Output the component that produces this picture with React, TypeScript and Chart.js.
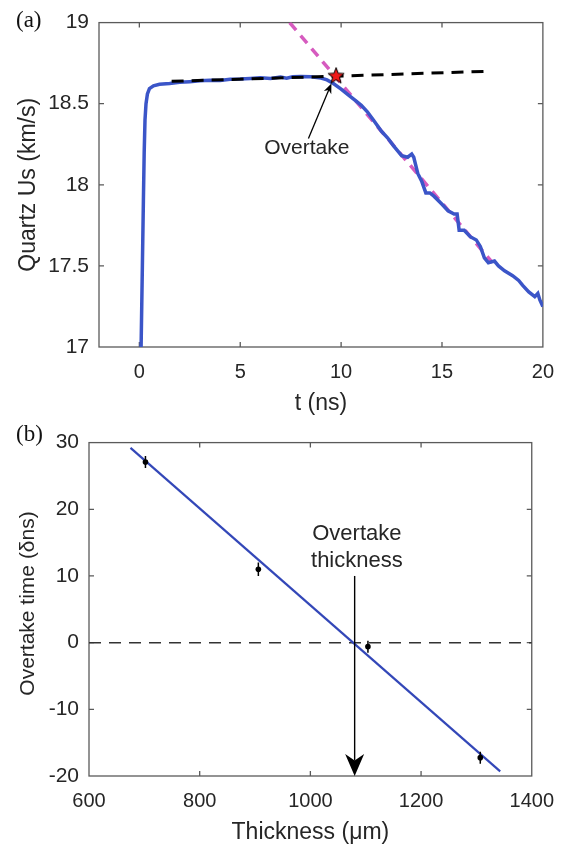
import React, { useEffect, useRef } from "react";
import { Chart, registerables } from "chart.js";

Chart.register(...registerables);

// ---------- Panel (a) data ----------
const T_TICKS = [0, 5, 10, 15, 20];
const US_TICKS = [17, 17.5, 18, 18.5, 19];

const US_T = [
  0.08, 0.15, 0.2, 0.24, 0.28, 0.33, 0.4, 0.5, 0.7, 1.0, 1.5, 2.0, 2.5, 3.0, 3.5, 4.0, 4.5, 5.0,
  5.5, 6.0, 6.5, 7.0, 7.3, 7.6, 8.0, 8.5, 9.0, 9.3, 9.6, 10.0, 10.4, 10.7, 11.0, 11.3, 11.6,
  12.0, 12.3, 12.6, 13.0, 13.3, 13.5, 13.6, 13.8, 14.0, 14.2, 14.4, 14.6, 15.0, 15.3, 15.6,
  15.75, 15.85, 16.1, 16.4, 16.7, 16.9, 17.1, 17.3, 17.6, 17.8, 18.1, 18.5, 18.8, 19.0, 19.3,
  19.6, 19.75, 19.85, 20.0,
];
const US_V = [
  16.95, 17.5, 17.9, 18.2, 18.4, 18.5, 18.56, 18.593, 18.61, 18.62, 18.625, 18.632, 18.636,
  18.641, 18.645, 18.643, 18.65, 18.652, 18.656, 18.66, 18.655, 18.664, 18.657, 18.666, 18.668,
  18.666, 18.658, 18.647, 18.626, 18.59, 18.55, 18.52, 18.49, 18.45, 18.4, 18.33, 18.29, 18.24,
  18.18, 18.17, 18.19, 18.17, 18.07, 18.02, 17.95, 17.95, 17.93, 17.88, 17.84, 17.82, 17.82,
  17.72, 17.72, 17.68, 17.66, 17.62, 17.55, 17.52, 17.53, 17.5, 17.47, 17.44, 17.41, 17.38,
  17.34, 17.31, 17.33, 17.29, 17.25,
];
const DECAY_FIT_T = [7.45, 17.5];
const DECAY_FIT_V = [19.0, 17.52];
const PLATEAU_FIT_T = [1.6, 17.4];
const PLATEAU_FIT_V = [18.638, 18.7];
const OVERTAKE_T = [9.75];
const OVERTAKE_V = [18.675];

// ---------- Panel (b) data ----------
const THICK_TICKS = [600, 800, 1000, 1200, 1400];
const TIME_TICKS = [-20, -10, 0, 10, 20, 30];
const THICKNESS = [702, 906, 1104, 1307];
const OVERTAKE_TIME = [27.1, 11.0, -0.6, -17.25];
const OVERTAKE_ERR = [0.9, 1.0, 0.9, 0.9];
const FIT_X = [675, 1343];
const FIT_Y = [29.2, -19.3];
const ZERO_X = [600, 1400];
const ZERO_Y = [0, 0];

// annotation anchors (data units)
const A_LABEL = "Overtake";
const A_LABEL_AT = { x: 8.3, y: 18.225 };
const A_ARROW = { x1: 8.38, y1: 18.285, x2: 9.52, y2: 18.625 };
const B_LABEL = ["Overtake", "thickness"];
const B_LABEL_AT = { x: 1084, y1: 16.26, y2: 12.21 };
const B_ARROW = { x: 1080, y1: 10, y2: -20 };

const FONT = "'Liberation Sans', Arial, Helvetica, sans-serif";
const TEXT = "#262626";
const AXIS = "#5a5a5a";
const BLUE = "#3b55c8";
const BLUE2 = "#3347b8";
const MAGENTA = "#d65bbf";

const pts = (xs: number[], ys: number[]) => xs.map((x, i) => ({ x, y: ys[i] }));

function makeStar(): HTMLCanvasElement {
  const c = document.createElement("canvas");
  const size = 20;
  c.width = size;
  c.height = size;
  const g = c.getContext("2d")!;
  const cx = size / 2, cy = size / 2 + 0.8, R = 8.5, r = 3.6;
  g.beginPath();
  for (let i = 0; i < 10; i++) {
    const a = -Math.PI / 2 + (i * Math.PI) / 5;
    const rad = i % 2 === 0 ? R : r;
    const px = cx + rad * Math.cos(a), py = cy + rad * Math.sin(a);
    if (i === 0) g.moveTo(px, py); else g.lineTo(px, py);
  }
  g.closePath();
  g.fillStyle = "#f01818";
  g.fill();
  g.lineWidth = 1;
  g.strokeStyle = "#000";
  g.stroke();
  return c;
}

function drawArrow(ctx: CanvasRenderingContext2D, x1: number, y1: number, x2: number, y2: number, len: number, wid: number, lw: number) {
  const dx = x2 - x1, dy = y2 - y1;
  const d = Math.hypot(dx, dy);
  const ux = dx / d, uy = dy / d;
  const px = -uy, py = ux;
  const bx = x2 - ux * len, by = y2 - uy * len;
  const nx = x2 - ux * len * 0.7, ny = y2 - uy * len * 0.7;
  ctx.save();
  ctx.strokeStyle = "#000";
  ctx.fillStyle = "#000";
  ctx.lineWidth = lw;
  ctx.beginPath();
  ctx.moveTo(x1, y1);
  ctx.lineTo(nx, ny);
  ctx.stroke();
  ctx.beginPath();
  ctx.moveTo(x2, y2);
  ctx.lineTo(bx + px * wid / 2, by + py * wid / 2);
  ctx.lineTo(nx, ny);
  ctx.lineTo(bx - px * wid / 2, by - py * wid / 2);
  ctx.closePath();
  ctx.fill();
  ctx.restore();
}

const framePlugin = {
  id: "frame",
  beforeDatasetsDraw(chart: any) {
    const { ctx, chartArea } = chart;
    const { left, right, top, bottom } = chartArea;
    const xs = chart.scales.x, ys = chart.scales.y;
    ctx.save();
    ctx.strokeStyle = AXIS;
    ctx.lineWidth = 1.3;
    ctx.strokeRect(left, top, right - left, bottom - top);
    ctx.beginPath();
    const L = 5;
    xs.ticks.forEach((t: any) => {
      const p = xs.getPixelForValue(t.value);
      if (p <= left + 1 || p >= right - 1) return;
      ctx.moveTo(p, bottom); ctx.lineTo(p, bottom - L);
      ctx.moveTo(p, top); ctx.lineTo(p, top + L);
    });
    ys.ticks.forEach((t: any) => {
      const p = ys.getPixelForValue(t.value);
      if (p <= top + 1 || p >= bottom - 1) return;
      ctx.moveTo(left, p); ctx.lineTo(left + L, p);
      ctx.moveTo(right, p); ctx.lineTo(right - L, p);
    });
    ctx.stroke();
    ctx.restore();
  },
};

const annotA = {
  id: "annotA",
  afterDraw(chart: any) {
    const { ctx } = chart;
    const xs = chart.scales.x, ys = chart.scales.y;
    drawArrow(ctx, xs.getPixelForValue(A_ARROW.x1), ys.getPixelForValue(A_ARROW.y1),
      xs.getPixelForValue(A_ARROW.x2), ys.getPixelForValue(A_ARROW.y2), 10, 8, 1.3);
    ctx.save();
    ctx.font = `21px ${FONT}`;
    ctx.fillStyle = TEXT;
    ctx.textAlign = "center";
    ctx.textBaseline = "middle";
    ctx.fillText(A_LABEL, xs.getPixelForValue(A_LABEL_AT.x), ys.getPixelForValue(A_LABEL_AT.y));
    ctx.restore();
  },
};

const annotB = {
  id: "annotB",
  afterDatasetsDraw(chart: any) {
    const { ctx } = chart;
    const xs = chart.scales.x, ys = chart.scales.y;
    ctx.save();
    ctx.strokeStyle = "#000";
    ctx.lineWidth = 1.5;
    ctx.beginPath();
    THICKNESS.forEach((x, i) => {
      const px = xs.getPixelForValue(x);
      ctx.moveTo(px, ys.getPixelForValue(OVERTAKE_TIME[i] - OVERTAKE_ERR[i]));
      ctx.lineTo(px, ys.getPixelForValue(OVERTAKE_TIME[i] + OVERTAKE_ERR[i]));
    });
    ctx.stroke();
    ctx.restore();
    const ax = xs.getPixelForValue(B_ARROW.x);
    drawArrow(ctx, ax, ys.getPixelForValue(B_ARROW.y1), ax, ys.getPixelForValue(B_ARROW.y2), 22, 19, 1.4);
    ctx.save();
    ctx.font = `22px ${FONT}`;
    ctx.fillStyle = TEXT;
    ctx.textAlign = "center";
    ctx.textBaseline = "middle";
    const lx = xs.getPixelForValue(B_LABEL_AT.x);
    ctx.fillText(B_LABEL[0], lx, ys.getPixelForValue(B_LABEL_AT.y1));
    ctx.fillText(B_LABEL[1], lx, ys.getPixelForValue(B_LABEL_AT.y2));
    ctx.restore();
  },
};

function axisX(min: number, max: number, ticks: number[], title: string, titleSize: number, height: number, titlePad: number) {
  return {
    type: "linear",
    position: "bottom",
    min, max,
    grid: { display: false, drawTicks: false },
    border: { display: false },
    afterBuildTicks: (s: any) => { s.ticks = ticks.map((v) => ({ value: v })); },
    afterFit: (s: any) => { s.height = height; },
    ticks: { color: TEXT, font: { family: FONT, size: 20 }, padding: 13, maxRotation: 0, autoSkip: false, callback: (v: any) => String(v) },
    title: { display: true, text: title, color: TEXT, font: { family: FONT, size: titleSize }, padding: { top: 0, bottom: titlePad } },
  };
}

function axisY(min: number, max: number, ticks: number[], title: string, titleSize: number, width: number, titlePad: number) {
  return {
    type: "linear",
    position: "left",
    min, max,
    grid: { display: false, drawTicks: false },
    border: { display: false },
    afterBuildTicks: (s: any) => { s.ticks = ticks.map((v) => ({ value: v })); },
    afterFit: (s: any) => { s.width = width; },
    ticks: { color: TEXT, font: { family: FONT, size: 21 }, padding: 10, autoSkip: false, callback: (v: any) => String(v) },
    title: { display: true, text: title, color: TEXT, font: { family: FONT, size: titleSize }, padding: { top: titlePad, bottom: 0 } },
  };
}

export default function App() {
  const refA = useRef<HTMLCanvasElement>(null);
  const refB = useRef<HTMLCanvasElement>(null);

  useEffect(() => {
    const star = makeStar();
    const chartA = new Chart(refA.current!, {
      type: "line",
      data: {
        datasets: [
          { label: "Overtake", data: pts(OVERTAKE_T, OVERTAKE_V), showLine: false, pointStyle: star as any, pointRadius: 8, order: 0 },
          { label: "Plateau fit", data: pts(PLATEAU_FIT_T, PLATEAU_FIT_V), borderColor: "#000", borderWidth: 3, borderDash: [12, 8], pointRadius: 0, order: 1 },
          { label: "Quartz Us", data: pts(US_T, US_V), borderColor: BLUE, borderWidth: 3.5, pointRadius: 0, tension: 0, order: 2 },
          { label: "Decay fit", data: pts(DECAY_FIT_T, DECAY_FIT_V), borderColor: MAGENTA, borderWidth: 3.5, borderDash: [10, 7], pointRadius: 0, order: 3 },
        ],
      },
      options: {
        responsive: false,
        animation: false,
        events: [],
        layout: { padding: { left: 0, top: 17, right: 21, bottom: 0 } },
        plugins: { legend: { display: false }, tooltip: { enabled: false } },
        scales: {
          x: axisX(-2, 20, T_TICKS, "t (ns)", 23, 73, 3),
          y: axisY(17, 19, US_TICKS, "Quartz Us (km/s)", 23, 99, 15),
        } as any,
      },
      plugins: [framePlugin, annotA],
    } as any);

    const chartB = new Chart(refB.current!, {
      type: "line",
      data: {
        datasets: [
          { label: "Measured", data: pts(THICKNESS, OVERTAKE_TIME), showLine: false, pointRadius: 2.8, pointBackgroundColor: "#000", pointBorderColor: "#000", borderWidth: 0, order: 0 },
          { label: "Linear fit", data: pts(FIT_X, FIT_Y), borderColor: BLUE2, borderWidth: 2.2, pointRadius: 0, order: 1 },
          { label: "Zero", data: pts(ZERO_X, ZERO_Y), borderColor: "#333", borderWidth: 1.5, borderDash: [12, 8], pointRadius: 0, order: 2 },
        ],
      },
      options: {
        responsive: false,
        animation: false,
        events: [],
        layout: { padding: { left: 0, top: 10, right: 32, bottom: 0 } },
        plugins: { legend: { display: false }, tooltip: { enabled: false } },
        scales: {
          x: axisX(600, 1400, THICK_TICKS, "Thickness (μm)", 23, 72, 2),
          y: axisY(-20, 30, TIME_TICKS, "  Overtake time (δns)", 21, 89, 16),
        } as any,
      },
      plugins: [framePlugin, annotB],
    } as any);

    return () => {
      chartA.destroy();
      chartB.destroy();
    };
  }, []);

  const panelLabel: React.CSSProperties = {
    position: "absolute",
    left: 16,
    fontFamily: "'Liberation Serif', 'Times New Roman', serif",
    fontSize: 23,
    lineHeight: "24px",
    color: "#111",
  };

  return (
    <div style={{ position: "fixed", left: 0, top: 0, width: 567, height: 848, background: "#fff" }}>
      <canvas ref={refA} width={567} height={420} style={{ position: "absolute", left: 0, top: 0 }} />
      <canvas ref={refB} width={567} height={428} style={{ position: "absolute", left: 0, top: 420 }} />
      <div style={{ ...panelLabel, top: 8 }}>(a)</div>
      <div style={{ ...panelLabel, top: 422 }}>(b)</div>
    </div>
  );
}
